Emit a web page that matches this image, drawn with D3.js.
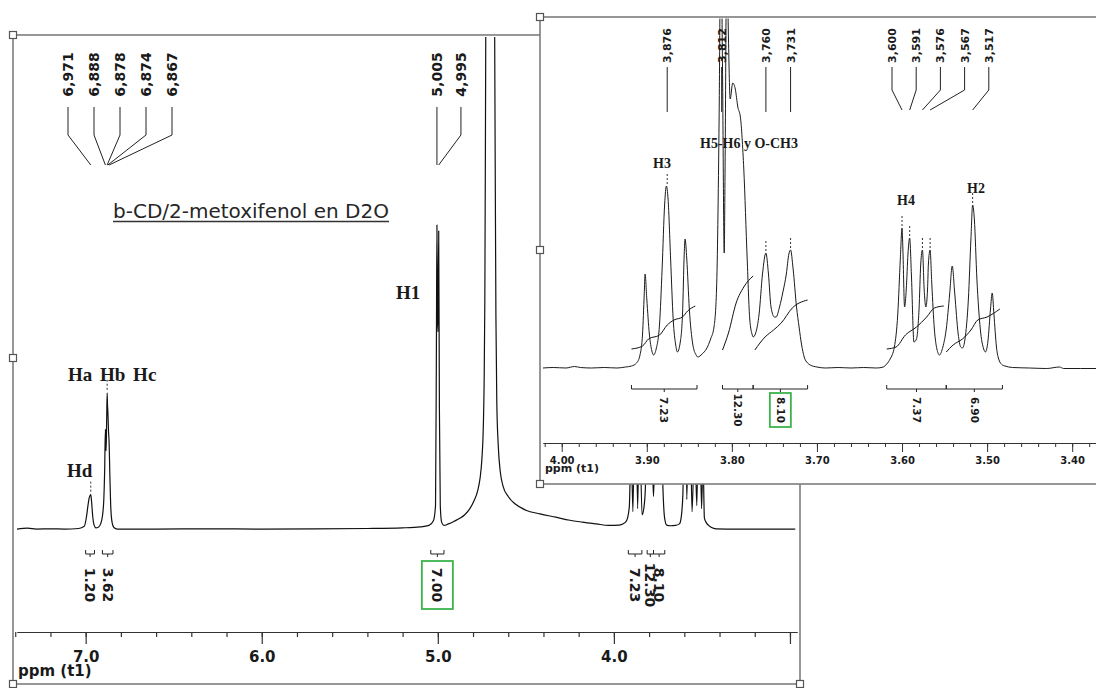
<!DOCTYPE html>
<html>
<head>
<meta charset="utf-8">
<script src="https://cdn.jsdelivr.net/npm/d3@7"></script>
<style>
  html, body { margin: 0; padding: 0; background: #fff; }
  svg { display: block; }
</style>
</head>
<body>
<svg id="chart" width="1096" height="688"></svg>
<script>
// ---------- spectrum data: [ppm, intensity] ----------
// Full 1H spectrum (intensity scaled so the H1 doublet = 100)
const mainTrace = [
  [7.39,0.3],[7.33,0.6],[7.28,0.3],[7.20,0.4],[7.12,0.3],[7.04,0.5],[7.008,1.2],[6.995,4.5],[6.987,8],
  [6.980,10.5],[6.975,11.3],[6.971,11.6],[6.966,9],[6.960,4.5],[6.952,1.6],[6.942,0.7],[6.928,0.9],
  [6.915,2],[6.905,4.5],[6.897,10],[6.892,20],[6.888,33],[6.884,26],[6.881,35],[6.878,45],
  [6.876,41],[6.874,39],[6.870,32],[6.867,29],[6.863,19],[6.857,7],[6.850,2.5],[6.840,0.8],
  [6.82,0.3],[6.6,0.3],[6.3,0.4],[6.0,0.3],[5.7,0.4],[5.4,0.5],[5.2,0.7],[5.10,1],[5.05,1.5],
  [5.025,3],[5.013,8],[5.008,60],[5.005,100],[5.002,70],[4.999,65],[4.995,98],[4.991,40],
  [4.986,8],[4.978,2.5],[4.965,1.5],[4.94,2],[4.903,3],[4.87,4],[4.847,5],[4.818,7],
  [4.795,9.5],[4.773,13],[4.760,17],[4.750,23],[4.742,33],[4.737,48],[4.733,75],[4.730,120],
  [4.727,175],[4.720,260],[4.702,330],[4.685,260],[4.678,175],[4.674,120],[4.670,70],[4.665,42],
  [4.657,28],[4.645,19],[4.63,14.5],[4.60,11],[4.56,8.5],[4.50,6.5],[4.42,5.3],[4.33,4.2],
  [4.25,3.2],[4.18,2.6],[4.10,2],[4.03,1.5],[3.97,1.6],[3.935,2.5],[3.922,4],[3.912,8],[3.902,30],
  [3.892,6],[3.878,56],[3.865,7],[3.855,40],[3.840,5],[3.828,8],[3.821,14],[3.813,135],
  [3.809,36],[3.806,125],[3.799,87],[3.788,60],[3.780,20],[3.775,11],[3.761,36],[3.748,17],
  [3.740,24],[3.731,37],[3.721,13],[3.712,4],[3.700,1.6],[3.680,1.4],[3.650,1.5],[3.628,2],
  [3.618,4],[3.608,12],[3.600,44],[3.597,20],[3.591,41],[3.586,10],[3.576,37],[3.573,20],
  [3.567,37],[3.556,6],[3.541,32],[3.529,8],[3.516,50],[3.502,7],[3.494,24],[3.486,4],
  [3.476,2.5],[3.462,1.5],[3.445,0.8],[3.42,0.4],[3.30,0.3],[3.10,0.3],[2.97,0.3]
];

// Expansion of the 3.4 - 4.0 ppm region (cyclodextrin H2-H6 and O-CH3)
const insetTrace = [
  [4.022,1],[4.010,1.5],[3.995,1],[3.985,2.5],[3.978,1.5],[3.965,1],[3.950,1.5],[3.935,1],
  [3.925,2],[3.918,3],[3.912,6],[3.908,14],[3.905,35],[3.903,75],[3.902,95],[3.900,70],
  [3.897,35],[3.894,18],[3.892,14],[3.889,20],[3.885,45],[3.882,100],[3.879,165],[3.877,183],
  [3.875,170],[3.872,110],[3.869,50],[3.866,24],[3.864,17],[3.861,25],[3.858,55],[3.856,115],
  [3.855,130],[3.853,110],[3.850,60],[3.846,25],[3.842,14],[3.840,12],[3.835,15],[3.830,20],
  [3.825,30],[3.821,42],[3.818,80],[3.815,250],[3.813,440],[3.811,300],[3.809,116],[3.808,200],
  [3.806,420],[3.804,330],[3.802,270],[3.799,286],[3.796,280],[3.793,262],[3.790,252],
  [3.786,200],[3.782,110],[3.779,50],[3.776,34],[3.775,32],[3.772,36],[3.768,55],[3.764,95],
  [3.760,116],[3.757,95],[3.754,62],[3.750,52],[3.748,52],[3.744,62],[3.740,77],[3.736,95],
  [3.733,115],[3.731,119],[3.728,100],[3.724,62],[3.721,42],[3.718,24],[3.715,12],[3.711,6],
  [3.708,4],[3.700,2],[3.690,1],[3.675,1.5],[3.660,1],[3.645,1.5],[3.630,1],[3.622,2],
  [3.618,5],[3.614,10],[3.609,22],[3.605,55],[3.602,110],[3.600,141],[3.599,120],[3.597,62],
  [3.595,80],[3.593,115],[3.591,131],[3.589,95],[3.586,27],[3.583,30],[3.580,60],[3.578,105],
  [3.576,119],[3.574,80],[3.572,62],[3.570,80],[3.569,105],[3.567,119],[3.565,85],[3.562,40],
  [3.559,20],[3.556,14],[3.552,22],[3.548,40],[3.544,75],[3.541,103],[3.538,75],[3.534,35],
  [3.531,22],[3.529,21],[3.526,30],[3.522,70],[3.519,130],[3.517,164],[3.515,150],[3.512,90],
  [3.508,40],[3.504,20],[3.502,17],[3.499,28],[3.496,60],[3.494,76],[3.492,55],[3.489,22],
  [3.486,9],[3.482,4],[3.479,3],[3.470,1.5],[3.450,1],[3.430,0.5],[3.415,2],[3.410,0.5],
  [3.390,0.5],[3.372,0.5]
];

// Running integral curves drawn over the expansion
const integralCurveH3 = [[3.918,20],[3.905,23],[3.898,30],[3.885,34],[3.876,44],[3.868,49],[3.858,52],[3.852,58],[3.843,63]];
const integralCurveH5 = [[3.811,19],[3.804,36],[3.795,66],[3.786,82],[3.775,93]];
const integralCurveOMe = [[3.773,19],[3.761,32],[3.751,39],[3.742,46],[3.729,61],[3.711,69]];
const integralCurveH4 = [[3.618,20],[3.607,22],[3.596,34],[3.583,42],[3.571,52],[3.562,61],[3.551,63]];
const integralCurveH2 = [[3.548,17],[3.540,24],[3.529,30],[3.519,39],[3.511,49],[3.500,52],[3.485,60]];

// Integration regions (ppm) and their values
const integralFrom  = [7.000, 6.905, 5.040, 3.918, 3.811, 3.775, 3.618, 3.548];
const integralTo    = [6.950, 6.845, 4.965, 3.841, 3.775, 3.711, 3.548, 3.482];
const integralValue = [1.20, 3.62, 7.00, 7.23, 12.30, 8.10, 7.37, 6.90];
const mainIntegralIdx  = [0, 1, 2, 3, 4, 5];
const insetIntegralIdx = [3, 4, 5, 6, 7];
const mainRefIntegral  = 2;   // 7.00 (H1 reference)
const insetRefIntegral = 5;   // 8.10

// Peak picking
const aromaticPeaks = [6.971, 6.888, 6.878, 6.874, 6.867];
const anomericPeaks = [5.005, 4.995];
const insetPeaksA   = [3.876, 3.812, 3.760, 3.731];
const insetPeaksB   = [3.600, 3.591, 3.576, 3.567, 3.517];
const mainMarked    = [6.971, 6.878];
const insetMarked   = [3.876, 3.760, 3.731, 3.600, 3.591, 3.576, 3.567, 3.517];

// Axis ticks
const mainMajorTicks = [7.0, 6.0, 5.0, 4.0, 3.0];
const mainTickLabels = ["7.0", "6.0", "5.0", "4.0", ""];
const mainMinorTicks = d3.range(0, 23).map(i => 7.4 - i * 0.2);
const insetMajorTicks = [4.0, 3.9, 3.8, 3.7, 3.6, 3.5, 3.4];
const insetMinorTicks = d3.range(0, 33).map(i => 4.02 - i * 0.02);

// Assignments
const mainAssign = [
  { text: "Ha Hb Hc", x: 68, y: 381 },
  { text: "Hd", x: 67, y: 477 },
  { text: "H1", x: 396, y: 299 }
];
const insetAssign = [
  { text: "H3", x: 653, y: 168, size: 14 },
  { text: "H5-H6 y O-CH3", x: 700, y: 148, size: 14 },
  { text: "H4", x: 897, y: 205, size: 14 },
  { text: "H2", x: 967, y: 193, size: 14 }
];
const sampleTitle = "b-CD/2-metoxifenol en D2O";

// ---------- helpers ----------
const SANS = "'DejaVu Sans', Verdana, sans-serif";
const SERIF = "'Liberation Serif', 'Times New Roman', serif";
const INK = "#1a1a1a";
const FRAME = "#7d7d7d";
const GREEN = "#3cb44b";
const ppmLabel = p => p.toFixed(3).replace(".", ",");
const intensityAt = (trace, p) => d3.least(trace, d => Math.abs(d[0] - p))[1];

const svg = d3.select("#chart");

function vText(g, x, y, str, size, angle, weight) {
  return g.append("text")
    .attr("transform", `translate(${x},${y}) rotate(${angle})`)
    .attr("text-anchor", "middle")
    .attr("dy", "0.36em")
    .attr("font-family", SANS)
    .attr("font-size", size)
    .attr("font-weight", weight || "bold")
    .attr("fill", INK)
    .text(str);
}

// ---------- main spectrum ----------
const xMain = d3.scaleLinear().domain([7.39, 2.96]).range([17, 797]);
const yMain = d3.scaleLinear().domain([0, 100]).range([530, 225]);

svg.append("rect").attr("x", 13).attr("y", 35).attr("width", 787).attr("height", 649)
  .attr("fill", "#fff").attr("stroke", FRAME).attr("stroke-width", 1.6);

svg.append("clipPath").attr("id", "clipMain")
  .append("rect").attr("x", 14).attr("y", 37).attr("width", 785).attr("height", 595);

const gMain = svg.append("g");

gMain.append("path")
  .datum(mainTrace)
  .attr("clip-path", "url(#clipMain)")
  .attr("fill", "none")
  .attr("stroke", "#111")
  .attr("stroke-width", 1.2)
  .attr("d", d3.line().x(d => xMain(d[0])).y(d => yMain(d[1])).curve(d3.curveMonotoneX));

// peak label fans
function peakFan(g, ppms, labelX, xs, ys, textY, fontSize) {
  ppms.forEach((p, i) => {
    const lx = labelX(i, p);
    g.append("path")
      .attr("d", `M${lx},${ys[0]}L${lx},${ys[1]}L${xs(p)},${ys[2]}`)
      .attr("fill", "none").attr("stroke", "#222").attr("stroke-width", 1);
    vText(g, lx, textY, ppmLabel(p), fontSize, -90);
  });
}
peakFan(gMain, aromaticPeaks, i => 68 + i * 26, xMain, [107, 135, 165], 74.5, 14);
peakFan(gMain, anomericPeaks, (i, p) => xMain(anomericPeaks[0]) + i * 24, xMain, [107, 135, 165], 74.5, 14);

// dashed markers above picked peaks
mainMarked.forEach(p => {
  const top = yMain(intensityAt(mainTrace, p));
  gMain.append("line").attr("x1", xMain(p)).attr("x2", xMain(p))
    .attr("y1", top - 13).attr("y2", top - 2)
    .attr("stroke", "#333").attr("stroke-width", 1).attr("stroke-dasharray", "2,2");
});

// assignments
mainAssign.forEach(a => {
  gMain.append("text").attr("x", a.x).attr("y", a.y)
    .attr("font-family", SERIF).attr("font-weight", "bold").attr("font-size", 19)
    .attr("fill", INK).attr("word-spacing", 3).text(a.text);
});

// sample title
const title = gMain.append("text").attr("x", 113).attr("y", 218)
  .attr("font-family", SANS).attr("font-size", 20).attr("fill", "#262626").text(sampleTitle);
const tw = title.node().getComputedTextLength();
gMain.append("line").attr("x1", 113).attr("x2", 113 + tw).attr("y1", 221.5).attr("y2", 221.5)
  .attr("stroke", "#333").attr("stroke-width", 1.3);

// integration brackets
function integralMarks(g, idxs, xs, lineY, labelY, fontSize, refIdx, box) {
  idxs.forEach(i => {
    const x1 = xs(integralFrom[i]), x2 = xs(integralTo[i]);
    const xc = xs((integralFrom[i] + integralTo[i]) / 2);
    g.append("path")
      .attr("d", `M${x1},${lineY - 4}L${x1},${lineY}L${x2},${lineY}L${x2},${lineY - 4}M${xc},${lineY}L${xc},${lineY + 3}`)
      .attr("fill", "none").attr("stroke", "#222").attr("stroke-width", 1);
    vText(g, xc, labelY, integralValue[i].toFixed(2), fontSize, 90);
    if (i === refIdx) {
      g.append("rect").attr("x", xc - box[0] / 2).attr("y", labelY - box[1] / 2)
        .attr("width", box[0]).attr("height", box[1])
        .attr("fill", "none").attr("stroke", GREEN).attr("stroke-width", 1.8);
    }
  });
}
integralMarks(gMain, mainIntegralIdx, xMain, 554, 585, 14, mainRefIntegral, [31, 48]);

// axis
const axMain = svg.append("g").attr("transform", "translate(0,632)");
axMain.append("g")
  .call(d3.axisBottom(xMain).tickValues(mainMinorTicks).tickSize(5).tickSizeOuter(0).tickFormat(""));
axMain.append("g")
  .call(d3.axisBottom(xMain).tickValues(mainMajorTicks).tickSize(12).tickSizeOuter(0).tickPadding(7)
    .tickFormat((d, i) => mainTickLabels[i]));
axMain.selectAll("path, line").attr("stroke", "#333").attr("stroke-width", 1.2);
axMain.selectAll("text").attr("font-family", SANS).attr("font-size", 15)
  .attr("font-weight", "bold").attr("fill", INK);
svg.append("text").attr("x", 18).attr("y", 676)
  .attr("font-family", SANS).attr("font-size", 15).attr("font-weight", "bold").attr("fill", INK)
  .text("ppm (t1)");

// ---------- expansion panel ----------
const xIns = d3.scaleLinear().domain([4.022, 3.372]).range([543, 1096]);
const yIns = d3.scaleLinear().domain([0, 350]).range([369, 19]);

const gIns = svg.append("g");
gIns.append("rect").attr("x", 540).attr("y", 17).attr("width", 570).attr("height", 467)
  .attr("fill", "#fff").attr("stroke", FRAME).attr("stroke-width", 1.6);

gIns.append("clipPath").attr("id", "clipIns")
  .append("rect").attr("x", 541).attr("y", 18.5).attr("width", 560).attr("height", 420);

gIns.append("path")
  .datum(insetTrace)
  .attr("clip-path", "url(#clipIns)")
  .attr("fill", "none")
  .attr("stroke", "#1c1c1c")
  .attr("stroke-width", 1)
  .attr("d", d3.line().x(d => xIns(d[0])).y(d => yIns(d[1])).curve(d3.curveMonotoneX));

const curveLine = d3.line().x(d => xIns(d[0])).y(d => yIns(d[1])).curve(d3.curveMonotoneX);
[integralCurveH3, integralCurveH5, integralCurveOMe, integralCurveH4, integralCurveH2].forEach(c => {
  gIns.append("path").datum(c).attr("fill", "none").attr("stroke", "#111")
    .attr("stroke-width", 1).attr("d", curveLine);
});

peakFan(gIns, insetPeaksA, (i, p) => xIns(p), xIns, [67, 90, 112], 45.5, 11);
peakFan(gIns, insetPeaksB, i => 892 + i * 24.2, xIns, [67, 90, 110], 45.5, 11);

insetMarked.forEach(p => {
  const top = yIns(intensityAt(insetTrace, p));
  gIns.append("line").attr("x1", xIns(p)).attr("x2", xIns(p))
    .attr("y1", top - 12).attr("y2", top - 2)
    .attr("stroke", "#333").attr("stroke-width", 1).attr("stroke-dasharray", "2,2");
});

insetAssign.forEach(a => {
  gIns.append("text").attr("x", a.x).attr("y", a.y)
    .attr("font-family", SERIF).attr("font-weight", "bold").attr("font-size", a.size)
    .attr("fill", INK).text(a.text);
});

integralMarks(gIns, insetIntegralIdx, xIns, 389, 410, 10.5, insetRefIntegral, [21, 34]);

const axIns = gIns.append("g").attr("transform", "translate(0,443)");
axIns.append("g")
  .call(d3.axisBottom(xIns).tickValues(insetMinorTicks).tickSize(4).tickSizeOuter(0).tickFormat(""));
axIns.append("g")
  .call(d3.axisBottom(xIns).tickValues(insetMajorTicks).tickSize(9).tickSizeOuter(0).tickPadding(5)
    .tickFormat(d3.format(".2f")));
axIns.selectAll("path, line").attr("stroke", "#333").attr("stroke-width", 1);
axIns.selectAll("text").attr("font-family", SANS).attr("font-size", 10)
  .attr("font-weight", "bold").attr("fill", INK);
gIns.append("text").attr("x", 545).attr("y", 472)
  .attr("font-family", SANS).attr("font-size", 11).attr("font-weight", "bold").attr("fill", INK)
  .text("ppm (t1)");

// ---------- selection handles ----------
const handles = [[13, 35], [13, 358], [13, 684], [800, 684], [540, 17], [540, 250], [540, 484]];
svg.append("g").selectAll("rect").data(handles).join("rect")
  .attr("x", d => d[0] - 3.5).attr("y", d => d[1] - 3.5)
  .attr("width", 7).attr("height", 7)
  .attr("fill", "#fff").attr("stroke", "#555").attr("stroke-width", 1.2);
</script>
</body>
</html>
